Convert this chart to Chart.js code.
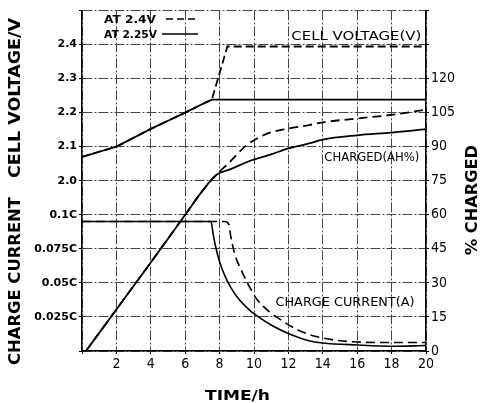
<!DOCTYPE html>
<html><head><meta charset="utf-8">
<script src="https://cdn.jsdelivr.net/npm/chart.js@4.4.0/dist/chart.umd.min.js"></script>
<style>html,body{margin:0;padding:0;background:#fff;}canvas{display:block;}</style>
</head><body>
<canvas id="c" width="481" height="403"></canvas>
<script>
// ---- tick labels ----
const leftTickLabels = ['', '0.025C', '0.05C', '0.075C', '0.1C', '2.0', '2.1', '2.2', '2.3', '2.4', ''];
const rightTickLabels = [0, 15, 30, 45, 60, 75, 90, 105, 120];
const timeTickLabels = [2, 4, 6, 8, 10, 12, 14, 16, 18, 20];

// ---- cell voltage (V) ----
const vSolidT = [0, 1, 2, 3, 4, 5, 6, 7, 7.55, 20];
const vSolidV = [2.07, 2.085, 2.10, 2.126, 2.152, 2.176, 2.20, 2.225, 2.238, 2.238];
const vDashT  = [0, 1, 2, 3, 4, 5, 6, 7, 7.55, 8.45, 20];
const vDashV  = [2.07, 2.085, 2.10, 2.126, 2.152, 2.176, 2.20, 2.225, 2.238, 2.394, 2.394];

// ---- % charged ----
const qSolidT = [0.23, 2, 4, 6, 7, 7.8, 8.6, 9.86, 11, 12, 13.2, 14, 16, 18, 20];
const qSolidP = [0, 18.3, 39, 60, 70.5, 77.5, 80, 84, 86.6, 89.2, 91.4, 93.1, 95, 96.2, 97.7];
const qDashT  = [0.23, 2, 4, 6, 7, 7.8, 8.6, 9.55, 10.7, 12, 13.2, 14, 16, 18, 20];
const qDashP  = [0, 18.3, 39, 60, 70.5, 77.5, 83.3, 90.5, 95.5, 98, 99.5, 100.7, 102.4, 104, 106.3];

// ---- charge current (C) ----
const iSolidT = [0, 7.5, 7.62, 7.77, 8.0, 8.29, 8.68, 9.16, 9.74, 10.3, 11.1, 11.96, 13.2, 14, 16, 18, 20];
const iSolidC = [0.095, 0.095, 0.0863, 0.0765, 0.0655, 0.0557, 0.046, 0.0374, 0.030, 0.0247, 0.0183, 0.013, 0.0075, 0.0059, 0.0044, 0.0035, 0.004];
const iDashT  = [0, 8.29, 8.54, 8.62, 8.87, 9.26, 9.74, 10.2, 10.9, 11.58, 12.64, 14, 16, 18, 20];
const iDashC  = [0.095, 0.095, 0.093, 0.0863, 0.0716, 0.0594, 0.047, 0.0374, 0.0288, 0.0227, 0.0149, 0.0095, 0.0066, 0.0062, 0.0062];

const narrow = '"Liberation Sans Narrow", "DejaVu Sans Condensed", "Liberation Sans", sans-serif';

function mk(label, t, v, axis, dash, w, mono) {
  return {
    label, data: t.map((x, i) => ({x, y: v[i]})), yAxisID: axis,
    borderColor: '#000', borderWidth: w, borderDash: dash, pointRadius: 0,
    fill: false, tension: 0, cubicInterpolationMode: mono ? 'monotone' : 'default'
  };
}

function drawFit(ctx, text, cx, cy, font, width, rot) {
  ctx.save();
  ctx.font = font;
  ctx.translate(cx, cy);
  if (rot) ctx.rotate(rot);
  const w = ctx.measureText(text).width;
  ctx.scale(width / w, 1);
  ctx.textAlign = 'center';
  ctx.textBaseline = 'middle';
  ctx.fillStyle = '#000';
  ctx.fillText(text, 0, 0);
  ctx.restore();
}

const textPlugin = {
  id: 'texts',
  afterDraw(chart) {
    const ctx = chart.ctx;
    const x = chart.scales.x, yV = chart.scales.yV, yI = chart.scales.yI, yR = chart.scales.yR;
    const bold = 'bold 15px "DejaVu Sans", sans-serif';
    // axis titles
    drawFit(ctx, 'CELL VOLTAGE/V', 16, 98, bold, 160, -Math.PI / 2);
    drawFit(ctx, 'CHARGE CURRENT', 16, 281, bold, 168, -Math.PI / 2);
    drawFit(ctx, '% CHARGED', 473, 200, bold, 110, -Math.PI / 2);
    drawFit(ctx, 'TIME/h', 237.5, 396, 'bold 14px "DejaVu Sans", sans-serif', 65, 0);
    // in-plot labels (anchored in data coordinates, left edge)
    const lab = '13px "DejaVu Sans", sans-serif';
    drawFit(ctx, 'CELL VOLTAGE(V)', x.getPixelForValue(12.17) + 65, yV.getPixelForValue(2.424), lab, 130, 0);
    drawFit(ctx, 'CHARGED(AH%)', x.getPixelForValue(14.09) + 47.5, yR.getPixelForValue(85.3), lab, 95, 0);
    drawFit(ctx, 'CHARGE CURRENT(A)', x.getPixelForValue(11.25) + 69.5, yI.getPixelForValue(0.0352), lab, 139, 0);
    // legend
    const lf = 'bold 11px "DejaVu Sans", sans-serif';
    drawFit(ctx, 'AT 2.4V', 104 + 26, 20, lf, 52, 0);
    drawFit(ctx, 'AT 2.25V', 104 + 26.5, 35, lf, 53, 0);
    ctx.save();
    ctx.strokeStyle = '#000';
    ctx.lineWidth = 1.5;
    ctx.setLineDash([7, 4]);
    ctx.beginPath(); ctx.moveTo(166, 19); ctx.lineTo(198, 19); ctx.stroke();
    ctx.setLineDash([]);
    ctx.beginPath(); ctx.moveTo(162, 34); ctx.lineTo(198, 34); ctx.stroke();
    ctx.restore();
  }
};

const gridDash = [10, 2, 2, 2];

new Chart(document.getElementById('c'), {
  type: 'line',
  data: {
    datasets: [
      mk('V 2.25', vSolidT, vSolidV, 'yV', [], 1.8, false),
      mk('V 2.4', vDashT, vDashV, 'yV', [8, 4], 1.8, false),
      mk('Q 2.25', qSolidT, qSolidP, 'yR', [], 1.8, true),
      mk('Q 2.4', qDashT, qDashP, 'yR', [9, 5], 1.8, true),
      mk('I 2.25', iSolidT, iSolidC, 'yI', [], 1.6, true),
      mk('I 2.4', iDashT, iDashC, 'yI', [9, 5], 1.6, true)
    ]
  },
  options: {
    responsive: false,
    animation: false,
    layout: {padding: {top: 10, left: 0, right: 0, bottom: 0}},
    plugins: {legend: {display: false}, tooltip: {enabled: false}},
    scales: {
      x: {
        type: 'linear', min: 0, max: 20,
        ticks: {stepSize: 2, color: '#000', padding: 2, maxRotation: 0,
          font: {family: narrow, size: 14},
          callback: v => timeTickLabels.includes(v) ? String(v) : ''},
        grid: {color: '#444', lineWidth: 1, tickLength: 3, tickColor: '#000'},
        border: {display: true, color: '#000', width: 1.5, dash: gridDash},
        afterFit: s => { s.height = 52; }
      },
      yL: {
        type: 'linear', position: 'left', min: 0, max: 10,
        ticks: {stepSize: 1, color: '#000', padding: 2,
          font: {family: '"DejaVu Sans", sans-serif', size: 11, weight: 'bold'},
          callback: v => leftTickLabels[Math.round(v)] || ''},
        grid: {color: '#444', lineWidth: 1, tickLength: 3, tickColor: '#000'},
        border: {display: true, color: '#000', width: 1.5, dash: gridDash},
        afterFit: s => { s.width = 82; }
      },
      yR: {
        type: 'linear', position: 'right', min: 0, max: 150,
        ticks: {stepSize: 15, color: '#000', padding: 2,
          font: {family: narrow, size: 14},
          callback: v => rightTickLabels.includes(v) ? String(v) : ''},
        grid: {drawOnChartArea: false, tickLength: 3, tickColor: '#000'},
        border: {display: true, color: '#000', width: 1.5},
        afterFit: s => { s.width = 55; }
      },
      yV: {type: 'linear', display: false, min: 1.5, max: 2.5},
      yI: {type: 'linear', display: false, min: 0, max: 0.25}
    }
  },
  plugins: [textPlugin]
});
</script>
</body></html>
